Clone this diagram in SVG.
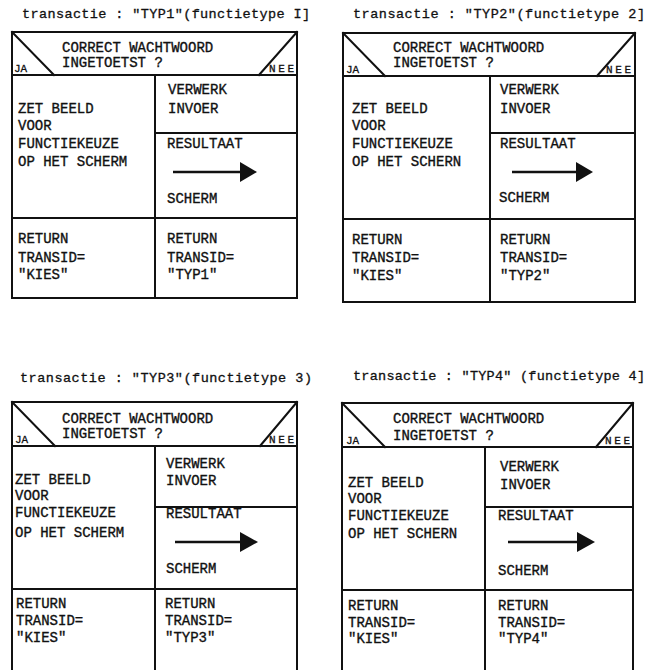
<svg xmlns="http://www.w3.org/2000/svg" width="660" height="670" viewBox="0 0 660 670">
  <style>
    .bg { fill: #ffffff; }
    .ln { fill: none; stroke: #111; stroke-width: 2; stroke-linecap: square; }
    .ttl { font-family: "Liberation Mono", "DejaVu Sans Mono", monospace; font-size: 13.5px; fill: #111; stroke: #111; stroke-width: 0.3; }
    .t { font-family: "Liberation Mono", "DejaVu Sans Mono", monospace; font-size: 14px; fill: #111; stroke: #111; stroke-width: 0.35; }
    .s { font-family: "Liberation Mono", "DejaVu Sans Mono", monospace; font-size: 11px; fill: #111; stroke: #111; stroke-width: 0.3; }
    .shaft { stroke: #111; stroke-width: 2.5; }
    .head { fill: #111; }
  </style>

  <rect class="bg" x="0" y="0" width="660" height="670"/>

  <!-- Structure chart: TYP1 -->
  <g id="panel-typ1">
    <text class="ttl" x="22" y="18" textLength="288" lengthAdjust="spacing">transactie : "TYP1"(functietype I]</text>
    <path class="ln" d="M12,32 H297 V298 H12 Z M12,75 H297 M12,32 L54,75 M297,32 L259,75 M155,75 V298 M155,133 H297 M12,218 H297"/>
    <g id="cond-typ1">
      <text class="t" x="62" y="52">CORRECT WACHTWOORD</text>
      <text class="t" x="62" y="67">INGETOETST ?</text>
      <text class="s" x="14" y="72">JA</text>
      <text class="s" x="269" y="72" textLength="25" lengthAdjust="spacing">NEE</text>
    </g>
    <g id="ja-typ1">
      <text class="t" x="18" y="113">ZET BEELD</text>
      <text class="t" x="18" y="130">VOOR</text>
      <text class="t" x="18" y="148">FUNCTIEKEUZE</text>
      <text class="t" x="18" y="166">OP HET SCHERM</text>
    </g>
    <g id="verwerk-typ1">
      <text class="t" x="168" y="94">VERWERK</text>
      <text class="t" x="168" y="113">INVOER</text>
    </g>
    <g id="resultaat-typ1">
      <text class="t" x="167" y="148">RESULTAAT</text>
      <line class="shaft" x1="173" y1="172" x2="242" y2="172"/>
      <polygon class="head" points="240,162 257,172 240,182"/>
      <text class="t" x="167" y="203">SCHERM</text>
    </g>
    <g id="return-kies-typ1">
      <text class="t" x="18" y="243">RETURN</text>
      <text class="t" x="18" y="262">TRANSID=</text>
      <text class="t" x="18" y="279">"KIES"</text>
    </g>
    <g id="return-typ1">
      <text class="t" x="167" y="243">RETURN</text>
      <text class="t" x="167" y="262">TRANSID=</text>
      <text class="t" x="167" y="279">"TYP1"</text>
    </g>
  </g>

  <!-- Structure chart: TYP2 -->
  <g id="panel-typ2">
    <text class="ttl" x="353" y="18" textLength="292" lengthAdjust="spacing">transactie : "TYP2"(functietype 2]</text>
    <path class="ln" d="M343,33 H635 V302 H343 Z M343,76 H635 M343,33 L385,76 M635,33 L597,76 M490,76 V302 M490,133 H635 M343,219 H635"/>
    <g id="cond-typ2">
      <text class="t" x="393" y="52">CORRECT WACHTWOORD</text>
      <text class="t" x="393" y="67">INGETOETST ?</text>
      <text class="s" x="346" y="73">JA</text>
      <text class="s" x="606" y="73" textLength="25" lengthAdjust="spacing">NEE</text>
    </g>
    <g id="ja-typ2">
      <text class="t" x="352" y="113">ZET BEELD</text>
      <text class="t" x="352" y="130">VOOR</text>
      <text class="t" x="352" y="148">FUNCTIEKEUZE</text>
      <text class="t" x="352" y="166">OP HET SCHERN</text>
    </g>
    <g id="verwerk-typ2">
      <text class="t" x="500" y="94">VERWERK</text>
      <text class="t" x="500" y="113">INVOER</text>
    </g>
    <g id="resultaat-typ2">
      <text class="t" x="500" y="148">RESULTAAT</text>
      <line class="shaft" x1="512" y1="172" x2="578" y2="172"/>
      <polygon class="head" points="576,162 593,172 576,182"/>
      <text class="t" x="499" y="202">SCHERM</text>
    </g>
    <g id="return-kies-typ2">
      <text class="t" x="352" y="244">RETURN</text>
      <text class="t" x="352" y="262">TRANSID=</text>
      <text class="t" x="352" y="280">"KIES"</text>
    </g>
    <g id="return-typ2">
      <text class="t" x="500" y="244">RETURN</text>
      <text class="t" x="500" y="262">TRANSID=</text>
      <text class="t" x="500" y="280">"TYP2"</text>
    </g>
  </g>

  <!-- Structure chart: TYP3 (runs on past the bottom edge) -->
  <g id="panel-typ3">
    <text class="ttl" x="20" y="382" textLength="292" lengthAdjust="spacing">transactie : "TYP3"(functietype 3)</text>
    <path class="ln" d="M12,672 V402 H297 V672 M12,446 H297 M12,402 L55,446 M297,402 L260,446 M155,446 V672 M155,507 H297 M12,589 H297"/>
    <g id="cond-typ3">
      <text class="t" x="62" y="423">CORRECT WACHTWOORD</text>
      <text class="t" x="62" y="438">INGETOETST ?</text>
      <text class="s" x="15" y="443">JA</text>
      <text class="s" x="269" y="443" textLength="25" lengthAdjust="spacing">NEE</text>
    </g>
    <g id="ja-typ3">
      <text class="t" x="15" y="484">ZET BEELD</text>
      <text class="t" x="15" y="500">VOOR</text>
      <text class="t" x="15" y="517">FUNCTIEKEUZE</text>
      <text class="t" x="15" y="537">OP HET SCHERM</text>
    </g>
    <g id="verwerk-typ3">
      <text class="t" x="166" y="468">VERWERK</text>
      <text class="t" x="166" y="485">INVOER</text>
    </g>
    <g id="resultaat-typ3">
      <text class="t" x="166" y="518">RESULTAAT</text>
      <line class="shaft" x1="175" y1="542" x2="242" y2="542"/>
      <polygon class="head" points="240,532 258,542 240,552"/>
      <text class="t" x="166" y="573">SCHERM</text>
    </g>
    <g id="return-kies-typ3">
      <text class="t" x="16" y="608">RETURN</text>
      <text class="t" x="16" y="625">TRANSID=</text>
      <text class="t" x="16" y="642">"KIES"</text>
    </g>
    <g id="return-typ3">
      <text class="t" x="165" y="608">RETURN</text>
      <text class="t" x="165" y="625">TRANSID=</text>
      <text class="t" x="165" y="642">"TYP3"</text>
    </g>
  </g>

  <!-- Structure chart: TYP4 (runs on past the bottom edge) -->
  <g id="panel-typ4">
    <text class="ttl" x="353" y="380" textLength="292" lengthAdjust="spacing">transactie : "TYP4" (functietype 4]</text>
    <path class="ln" d="M342,672 V403 H633 V672 M342,447 H633 M342,403 L385,447 M633,403 L596,447 M485,447 V672 M485,507 H633 M342,590 H633"/>
    <g id="cond-typ4">
      <text class="t" x="393" y="423">CORRECT WACHTWOORD</text>
      <text class="t" x="393" y="440">INGETOETST ?</text>
      <text class="s" x="346" y="444">JA</text>
      <text class="s" x="605" y="444" textLength="25" lengthAdjust="spacing">NEE</text>
    </g>
    <g id="ja-typ4">
      <text class="t" x="348" y="487">ZET BEELD</text>
      <text class="t" x="348" y="503">VOOR</text>
      <text class="t" x="348" y="520">FUNCTIEKEUZE</text>
      <text class="t" x="348" y="538">OP HET SCHERN</text>
    </g>
    <g id="verwerk-typ4">
      <text class="t" x="500" y="471">VERWERK</text>
      <text class="t" x="500" y="489">INVOER</text>
    </g>
    <g id="resultaat-typ4">
      <text class="t" x="498" y="520">RESULTAAT</text>
      <line class="shaft" x1="508" y1="542" x2="579" y2="542"/>
      <polygon class="head" points="577,532 595,542 577,552"/>
      <text class="t" x="498" y="575">SCHERM</text>
    </g>
    <g id="return-kies-typ4">
      <text class="t" x="348" y="610">RETURN</text>
      <text class="t" x="348" y="627">TRANSID=</text>
      <text class="t" x="348" y="643">"KIES"</text>
    </g>
    <g id="return-typ4">
      <text class="t" x="498" y="610">RETURN</text>
      <text class="t" x="498" y="627">TRANSID=</text>
      <text class="t" x="498" y="643">"TYP4"</text>
    </g>
  </g>
</svg>
